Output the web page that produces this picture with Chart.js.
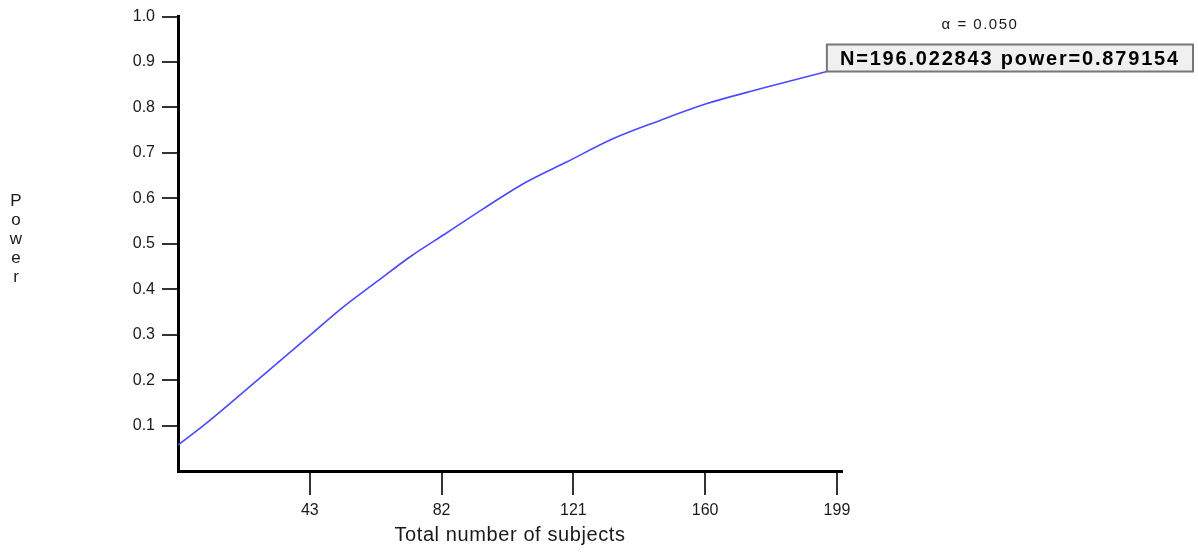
<!DOCTYPE html>
<html>
<head>
<meta charset="utf-8">
<script src="https://cdn.jsdelivr.net/npm/chart.js@4.4.1/dist/chart.umd.min.js"></script>
<style>
  html, body { margin: 0; padding: 0; background: #fff; }
  #wrap { width: 1198px; height: 555px; }
</style>
</head>
<body>
<div id="wrap"><canvas id="chart" width="1198" height="555"></canvas></div>
<script>
// power curve
const subjects = [4, 12.7, 27.5, 42.5, 52.4, 62.7, 72.6, 83.9, 94.3, 107.1, 119, 132.7, 146.5, 160.3, 176.3, 196.022843];
const power = [0.057, 0.107, 0.200, 0.295, 0.358, 0.416, 0.471, 0.526, 0.577, 0.636, 0.680, 0.731, 0.771, 0.808, 0.841, 0.879154];

const xTicks = [43, 82, 121, 160, 199];
const yTicks = [0.1, 0.2, 0.3, 0.4, 0.5, 0.6, 0.7, 0.8, 0.9, 1.0];

const alphaLabel = 'α = 0.050';
const markerN = 196.022843;
const markerPower = 0.879154;
const xTitle = 'Total number of subjects';
const yTitle = 'Power';

const textColor = '#1a1a1a';

// draws the axis titles, alpha note and the marker box
const extras = {
  id: 'extras',
  afterDraw(chart) {
    const ctx = chart.ctx;
    const xs = chart.scales.x;
    const ys = chart.scales.y;
    ctx.save();
    ctx.fillStyle = textColor;
    ctx.textAlign = 'center';
    ctx.textBaseline = 'middle';

    ctx.font = '20px "Liberation Sans", Arial, sans-serif';
    ctx.letterSpacing = '0.6px';
    ctx.fillText(xTitle, (xs.left + xs.right) / 2, 535);

    ctx.font = '17px "Liberation Sans", Arial, sans-serif';
    ctx.letterSpacing = '0px';
    yTitle.split('').forEach(function(ch, i) {
      ctx.fillText(ch, 16, 201 + i * 19);
    });

    ctx.font = '15px "Liberation Sans", Arial, sans-serif';
    ctx.letterSpacing = '1.5px';
    ctx.fillText(alphaLabel, 980, 25);

    // box anchored at the end point of the curve
    const bx = xs.getPixelForValue(markerN);
    const by = ys.getPixelForValue(markerPower);
    const label = 'N=' + markerN.toFixed(6) + ' power=' + markerPower.toFixed(6);
    const bw = 1193 - bx;
    const bh = 27;
    ctx.fillStyle = '#f0f0f0';
    ctx.fillRect(bx, by - bh, bw, bh);
    ctx.strokeStyle = '#777';
    ctx.lineWidth = 2;
    ctx.strokeRect(bx, by - bh, bw, bh);
    ctx.fillStyle = '#000';
    ctx.font = 'bold 20px "Liberation Sans", Arial, sans-serif';
    ctx.letterSpacing = '1.8px';
    ctx.fillText(label, bx + bw / 2, by - bh / 2 + 1);
    ctx.restore();
  }
};

const ctx = document.getElementById('chart').getContext('2d');
new Chart(ctx, {
  type: 'line',
  data: {
    datasets: [{
      data: subjects.map(function(n, i) { return { x: n, y: power[i] }; }),
      borderColor: '#4a4aff',
      borderWidth: 1.6,
      pointRadius: 0,
      cubicInterpolationMode: 'monotone',
      fill: false
    }]
  },
  options: {
    responsive: false,
    animation: false,
    layout: { padding: { top: 16, right: 356, left: 0, bottom: 0 } },
    plugins: {
      legend: { display: false },
      tooltip: { enabled: false }
    },
    scales: {
      x: {
        type: 'linear',
        min: 4,
        max: 200.5,
        afterBuildTicks(scale) { scale.ticks = xTicks.map(function(v) { return { value: v }; }); },
        afterFit(scale) { scale.height = 84; },
        border: { display: true, color: '#000', width: 3 },
        grid: { drawOnChartArea: false, drawTicks: true, tickLength: 24, color: '#333', lineWidth: 2 },
        ticks: {
          color: textColor,
          padding: 6,
          maxRotation: 0,
          font: { family: '"Liberation Sans", Arial, sans-serif', size: 16 }
        }
      },
      y: {
        type: 'linear',
        min: 0,
        max: 1,
        afterBuildTicks(scale) { scale.ticks = yTicks.map(function(v) { return { value: v }; }); },
        afterFit(scale) { scale.width = 178; },
        border: { display: true, color: '#000', width: 3 },
        grid: { drawOnChartArea: false, drawTicks: true, tickLength: 16, color: '#333', lineWidth: 2 },
        ticks: {
          color: textColor,
          padding: 7,
          callback: function(v) { return v.toFixed(1); },
          font: { family: '"Liberation Sans", Arial, sans-serif', size: 16 }
        }
      }
    }
  },
  plugins: [extras]
});
</script>
</body>
</html>
